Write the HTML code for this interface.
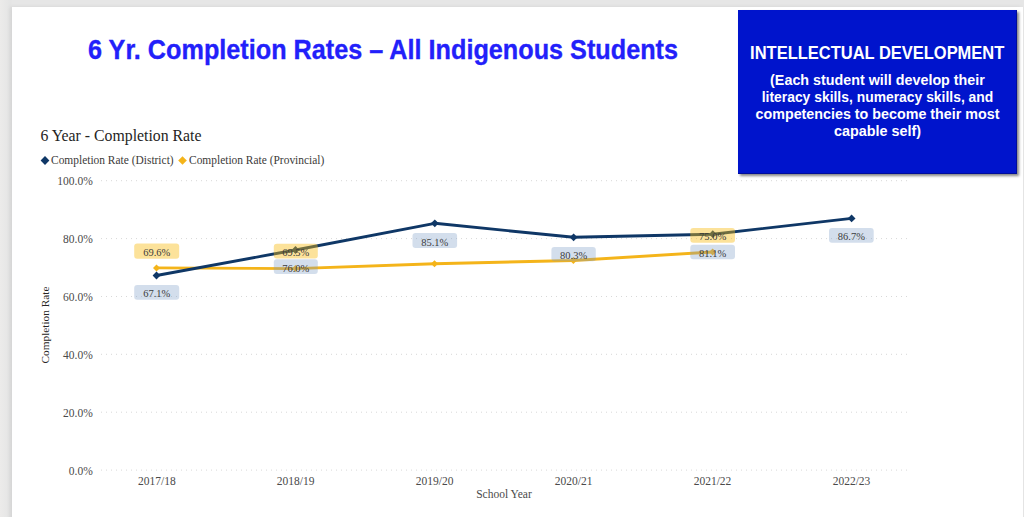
<!DOCTYPE html>
<html><head><meta charset="utf-8">
<style>
html,body{margin:0;padding:0;width:1024px;height:517px;overflow:hidden;}
body{position:relative;font-family:"Liberation Sans",sans-serif;background:linear-gradient(90deg,#ecebea 0px,#e4e4e4 11px,#e6e6e6 12px);}
#slide{position:absolute;left:12px;top:7px;width:1011px;height:520px;background:#fff;box-shadow:-2px 0 4px rgba(0,0,0,0.08);}
#title{position:absolute;left:87.5px;top:33px;white-space:nowrap;font-weight:bold;font-size:28.5px;line-height:33px;color:#2220fa;transform-origin:0 0;transform:scaleX(0.885);-webkit-text-stroke:0.35px #2220fa;}
#box{position:absolute;left:738px;top:10px;width:279px;height:164px;background:#0014cc;box-shadow:inset -1px -1px 0 rgba(0,0,60,0.35),1.5px 1.5px 2.5px rgba(0,0,0,0.48);color:#fff;text-align:center;font-weight:bold;}
#box .h{position:absolute;left:-1px;width:279px;top:33px;font-size:18.2px;white-space:nowrap;transform:scaleX(0.906);}
#box .b{position:absolute;left:0;width:279px;top:62px;font-size:14.2px;line-height:17px;white-space:nowrap;}
svg{position:absolute;left:0;top:0;}
</style></head><body>
<div id="slide"></div>
<div id="title">6 Yr. Completion Rates – All Indigenous Students</div>
<div id="box"><div class="h">INTELLECTUAL DEVELOPMENT</div><div class="b"><div style="transform:scaleX(1.009)">(Each student will develop their</div><div style="transform:scaleX(0.979)">literacy skills, numeracy skills, and</div><div style="transform:scaleX(1.008)">competencies to become their most</div><div style="transform:scaleX(1.013)">capable self)</div></div></div>
<svg width="1024" height="517" viewBox="0 0 1024 517" font-family="Liberation Serif, serif">
<text x="40.5" y="140.5" font-size="15.8" fill="#252423">6 Year - Completion Rate</text>
<path d="M40.6 160.5 L45 156.1 L49.4 160.5 L45 164.9 Z" fill="#0f3766"/>
<text x="51" y="164" font-size="11.45" fill="#3b3a39">Completion Rate (District)</text>
<path d="M178.2 160.5 L182.5 156.2 L186.8 160.5 L182.5 164.8 Z" fill="#f4b41a"/>
<text x="189" y="164" font-size="11.45" fill="#3b3a39">Completion Rate (Provincial)</text>
<g stroke="#d8d8d8" stroke-width="1" stroke-dasharray="1 4">
<line x1="101" y1="180.7" x2="908" y2="180.7"/>
<line x1="101" y1="238.6" x2="908" y2="238.6"/>
<line x1="101" y1="296.5" x2="908" y2="296.5"/>
<line x1="101" y1="354.3" x2="908" y2="354.3"/>
<line x1="101" y1="412.2" x2="908" y2="412.2"/>
<line x1="101" y1="470.1" x2="908" y2="470.1"/>
</g>
<g font-size="11.5" fill="#4a4a4a" text-anchor="end">
<text x="92.8" y="185.3">100.0%</text>
<text x="92.8" y="243.2">80.0%</text>
<text x="92.8" y="301.1">60.0%</text>
<text x="92.8" y="358.9">40.0%</text>
<text x="92.8" y="416.8">20.0%</text>
<text x="92.8" y="474.7">0.0%</text>
</g>
<g font-size="11.5" fill="#4a4a4a" text-anchor="middle">
<text x="156.8" y="485">2017/18</text>
<text x="295.7" y="485">2018/19</text>
<text x="434.7" y="485">2019/20</text>
<text x="573.6" y="485">2020/21</text>
<text x="712.5" y="485">2021/22</text>
<text x="851.5" y="485">2022/23</text>
<text x="504" y="498">School Year</text></g>
<text transform="translate(49,325) rotate(-90)" font-size="11.3" fill="#252423" text-anchor="middle">Completion Rate</text>
<polyline fill="none" stroke="#f4b41a" stroke-width="2.9" stroke-linejoin="round" points="156.5,267.9 295.5,268.6 434.5,263.8 573.4,260.5 712.6,252.0"/>
<g fill="#f4b41a"><path d="M153.0 267.9 L156.5 264.4 L160.0 267.9 L156.5 271.4Z"/><path d="M292.0 268.6 L295.5 265.1 L299.0 268.6 L295.5 272.1Z"/><path d="M431.0 263.8 L434.5 260.3 L438.0 263.8 L434.5 267.3Z"/><path d="M569.9 260.5 L573.4 257.0 L576.9 260.5 L573.4 264.0Z"/><path d="M709.1 252.0 L712.6 248.5 L716.1 252.0 L712.6 255.5Z"/></g>
<polyline fill="none" stroke="#0f3766" stroke-width="2.9" stroke-linejoin="round" points="156.5,275.5 295.5,250.0 434.8,223.3 573.6,237.3 712.8,234.2 851.6,218.4"/>
<g fill="#0f3766"><path d="M152.6 275.5 L156.5 271.6 L160.4 275.5 L156.5 279.4Z"/><path d="M291.6 250.0 L295.5 246.1 L299.4 250.0 L295.5 253.9Z"/><path d="M430.9 223.3 L434.8 219.4 L438.7 223.3 L434.8 227.2Z"/><path d="M569.7 237.3 L573.6 233.4 L577.5 237.3 L573.6 241.2Z"/><path d="M708.9 234.2 L712.8 230.3 L716.7 234.2 L712.8 238.1Z"/><path d="M847.7 218.4 L851.6 214.5 L855.5 218.4 L851.6 222.3Z"/></g>
<rect x="134.2" y="243.5" width="45" height="15.2" rx="3" fill="#f9b90f" fill-opacity="0.42"/>
<rect x="273.8" y="243.8" width="44" height="14.8" rx="3" fill="#f9b90f" fill-opacity="0.42"/>
<rect x="690.3" y="228" width="44.7" height="14.7" rx="3" fill="#f9b90f" fill-opacity="0.42"/>
<rect x="134.2" y="284.9" width="45" height="14.8" rx="3" fill="#7a9cc6" fill-opacity="0.33"/>
<rect x="273.8" y="259.3" width="44" height="14.7" rx="3" fill="#7a9cc6" fill-opacity="0.33"/>
<rect x="412.5" y="233" width="44.6" height="14.9" rx="3" fill="#7a9cc6" fill-opacity="0.33"/>
<rect x="551.4" y="246.9" width="44.4" height="14.4" rx="3" fill="#7a9cc6" fill-opacity="0.33"/>
<rect x="690.3" y="244.7" width="44.7" height="14.6" rx="3" fill="#7a9cc6" fill-opacity="0.33"/>
<rect x="829" y="228" width="44.7" height="14.7" rx="3" fill="#7a9cc6" fill-opacity="0.33"/>
<g font-size="10.5" fill="#3c3c3c" text-anchor="middle">
<text x="156.7" y="256.3">69.6%</text>
<text x="295.8" y="256.2">69.5%</text>
<text x="712.6" y="240.3">75.0%</text>
<text x="156.7" y="297.3">67.1%</text>
<text x="295.8" y="271.6">76.0%</text>
<text x="434.8" y="245.5">85.1%</text>
<text x="573.6" y="258.9">80.3%</text>
<text x="712.6" y="256.9">81.1%</text>
<text x="851.4" y="240.3">86.7%</text>
</g>
</svg>
</body></html>
